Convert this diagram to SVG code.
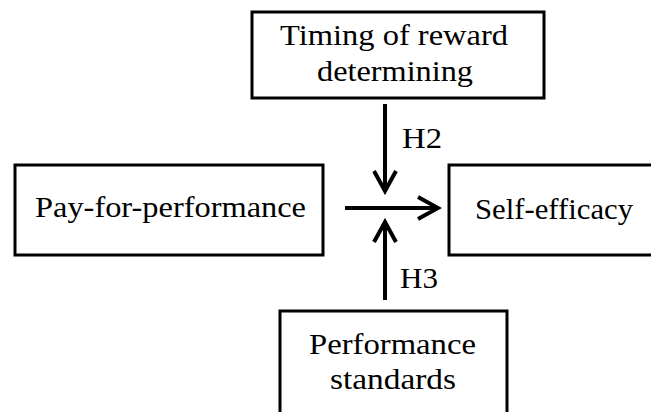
<svg xmlns="http://www.w3.org/2000/svg" width="651" height="412" viewBox="0 0 651 412">
<defs>
<style>
.box{fill:#fff;stroke:#000;stroke-width:3}
.t{font-family:"Liberation Serif","Times New Roman",serif;font-size:30px;fill:#000}
.c{fill:none;stroke:#000;stroke-width:4}
</style>
<marker id="ah" markerUnits="userSpaceOnUse" viewBox="-24 -14 28 28" refX="0" refY="0" markerWidth="28" markerHeight="28" orient="auto">
<path d="M-20,-11 L0,0 L-20,11" fill="none" stroke="#000" stroke-width="4" stroke-linejoin="miter"/>
</marker>
</defs>
<rect width="651" height="412" fill="#fff"/>
<g id="timing">
<rect class="box" x="252" y="12" width="292" height="86"/>
<text class="t" x="280" y="45" textLength="228" lengthAdjust="spacingAndGlyphs">Timing of reward</text>
<text class="t" x="317" y="81" textLength="156" lengthAdjust="spacingAndGlyphs">determining</text>
</g>
<g id="pay">
<rect class="box" x="15" y="165" width="308" height="90"/>
<text class="t" x="35" y="217" textLength="271" lengthAdjust="spacingAndGlyphs">Pay-for-performance</text>
</g>
<g id="self">
<rect class="box" x="449" y="165" width="210" height="90"/>
<text class="t" x="475" y="219" textLength="158" lengthAdjust="spacingAndGlyphs">Self-efficacy</text>
</g>
<g id="standards">
<rect class="box" x="280" y="311" width="227" height="110"/>
<text class="t" x="309" y="354" textLength="167" lengthAdjust="spacingAndGlyphs">Performance</text>
<text class="t" x="330" y="389" textLength="126" lengthAdjust="spacingAndGlyphs">standards</text>
</g>
<g id="connectors">
<line class="c" x1="345" y1="208" x2="438" y2="208" marker-end="url(#ah)"/>
<line class="c" x1="385" y1="104" x2="385" y2="191" marker-end="url(#ah)"/>
<line class="c" x1="385" y1="300" x2="385" y2="222" marker-end="url(#ah)"/>
<text class="t" x="402" y="148" textLength="40" lengthAdjust="spacingAndGlyphs">H2</text>
<text class="t" x="400" y="288" textLength="38" lengthAdjust="spacingAndGlyphs">H3</text>
</g>
</svg>
